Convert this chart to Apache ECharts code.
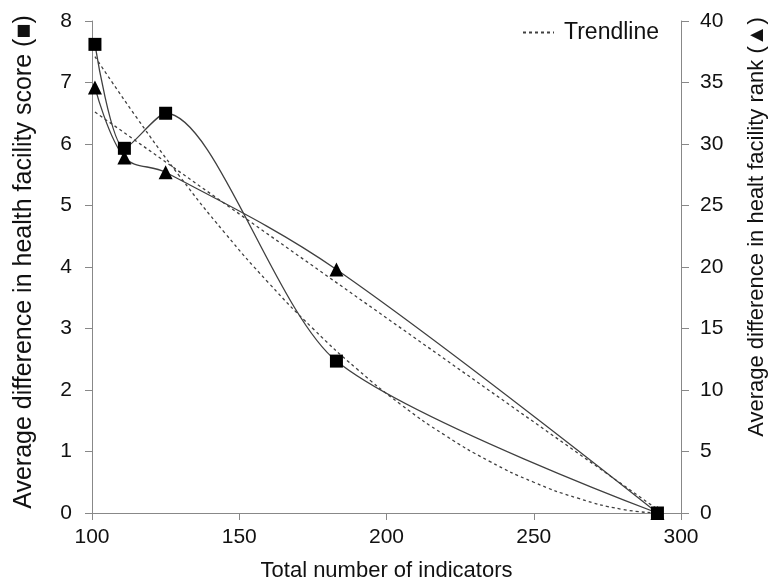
<!DOCTYPE html>
<html><head><meta charset="utf-8">
<script src="https://cdn.jsdelivr.net/npm/echarts@6/dist/echarts.min.js"></script>
<style>html,body{margin:0;padding:0;background:#fff}#c{width:769px;height:583px}</style>
</head><body><div id="c"></div>
<script>
// Data
const indicators = [101, 111, 125, 183, 292];
const scoreDiff = [7.62, 5.93, 6.50, 2.47, 0.00];      // squares, left axis
const rankDiff = [34.6, 28.9, 27.7, 19.8, 0.0];        // triangles, right axis
// Trendline points
const scoreTrendX = [101, 115, 130, 145, 160, 175, 190, 205, 220, 235, 250, 265, 280, 292];
const scoreTrendY = [7.42, 6.44, 5.46, 4.56, 3.74, 3.00, 2.34, 1.76, 1.26, 0.84, 0.50, 0.24, 0.06, 0.00];
const rankTrendX = [101, 292];
const rankTrendY = [32.6, 0.3];
const xTicks = [100, 150, 200, 250, 300];

const pair = (xs, ys) => xs.map((x, i) => [x, ys[i]]);
const font = 'Liberation Sans, Arial, sans-serif';
const axisGray = '#888888';
const lineCol = '#404040';
const txt = '#111111';

const chart = echarts.init(document.getElementById('c'), null, {renderer: 'canvas'});
chart.setOption({
  animation: false,
  backgroundColor: '#fff',
  grid: {left: 92, right: 88, top: 21, bottom: 70, containLabel: false, outerBoundsMode: 'none'},
  legend: {
    data: ['Trendline'],
    left: 517, top: 16,
    itemWidth: 31, itemHeight: 14,
    itemStyle: {color: 'rgba(0,0,0,0)', borderColor: 'rgba(0,0,0,0)', borderWidth: 0},
    textStyle: {fontFamily: font, fontSize: 23, color: txt, padding: [0, 0, 0, 5]}
  },
  xAxis: {
    type: 'value', min: xTicks[0], max: xTicks[xTicks.length - 1], interval: 50,
    name: 'Total number of indicators', nameLocation: 'middle', nameGap: 47,
    nameTextStyle: {fontFamily: font, fontSize: 22, color: txt},
    axisLine: {show: true, lineStyle: {color: axisGray, width: 1}},
    axisTick: {show: true, inside: false, length: 7, lineStyle: {color: axisGray}},
    axisLabel: {fontFamily: font, fontSize: 21, color: txt, margin: 14},
    splitLine: {show: false}
  },
  yAxis: [{
    type: 'value', min: 0, max: 8, interval: 1, position: 'left',
    name: 'Average difference in health facility score (\u25A0)', nameLocation: 'middle', nameGap: 55,
    nameTextStyle: {fontFamily: font, fontSize: 25, color: txt, padding: [0, 0, 0, 10]},
    axisLine: {show: true, lineStyle: {color: axisGray, width: 1}},
    axisTick: {show: true, inside: false, length: 7, lineStyle: {color: axisGray}},
    axisLabel: {fontFamily: font, fontSize: 21, color: txt, margin: 20},
    splitLine: {show: false}
  }, {
    type: 'value', min: 0, max: 40, interval: 5, position: 'right',
    name: 'Average difference in healt facility rank (\u25B2)', nameLocation: 'middle', nameGap: 65,
    nameTextStyle: {fontFamily: font, fontSize: 22, color: txt, padding: [0, 0, 0, 80]},
    axisLine: {show: true, lineStyle: {color: axisGray, width: 1}},
    axisTick: {show: true, inside: false, length: 8, lineStyle: {color: axisGray}},
    axisLabel: {fontFamily: font, fontSize: 21, color: txt, margin: 19},
    splitLine: {show: false}
  }],
  series: [
    {
      name: 'Trendline', type: 'line', yAxisIndex: 0, data: pair(scoreTrendX, scoreTrendY),
      smooth: true, symbol: 'none', z: 1,
      lineStyle: {color: lineCol, width: 1.3, type: [3, 3]}, itemStyle: {color: lineCol}
    },
    {
      name: 'Trendline', type: 'line', yAxisIndex: 1, data: pair(rankTrendX, rankTrendY),
      symbol: 'none', z: 1,
      lineStyle: {color: lineCol, width: 1.3, type: [3, 3]}, itemStyle: {color: lineCol}
    },
    {
      name: 'Rank', type: 'line', yAxisIndex: 1, data: pair(indicators, rankDiff),
      smooth: 0.35, symbol: 'triangle', symbolSize: 14, z: 3,
      lineStyle: {color: lineCol, width: 1.3}, itemStyle: {color: '#000'}
    },
    {
      name: 'Score', type: 'line', yAxisIndex: 0, data: pair(indicators, scoreDiff),
      smooth: 0.27, symbol: 'rect', symbolSize: 13, z: 4,
      lineStyle: {color: lineCol, width: 1.3}, itemStyle: {color: '#000'}
    }
  ]
});
</script></body></html>
